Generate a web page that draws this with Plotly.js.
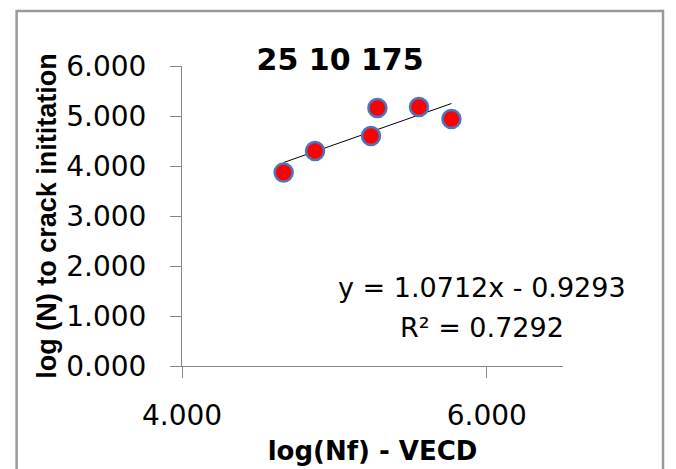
<!DOCTYPE html>
<html>
<head>
<meta charset="utf-8">
<script src="https://cdn.plot.ly/plotly-3.0.1.min.js"></script>
<style>
  html, body { margin: 0; padding: 0; background: #ffffff; }
  #chart { width: 676px; height: 469px; }
</style>
</head>
<body>
<div id="chart"></div>
<script>
// Measured points: log(Nf) from VECD vs log(N) to crack initiation
const logNfVECD = [4.667, 4.873, 5.240, 5.282, 5.555, 5.768];
const logNInit  = [3.870, 4.302, 4.601, 5.161, 5.181, 4.941];

// Linear trendline reported on the chart
const slope = 1.0712;
const intercept = -0.9293;
const rSquared = 0.7292;

const xTickVals = [4, 6];
const yTickVals = [0, 1, 2, 3, 4, 5, 6];

const chartTitle = '25 10 175';
const xTitle = 'log(Nf) - VECD';
const yTitle = 'log (N) to crack inititation';

const xMin = Math.min(...logNfVECD);
const xMax = Math.max(...logNfVECD);
const trendX = [xMin, xMax];
const trendY = trendX.map(v => slope * v + intercept);

const axisGray = '#868686';
const regular = 'DejaVu Sans, sans-serif';
const bold = 'DejaVu Sans, sans-serif';
const narrowBold = 'Liberation Sans, Arial, sans-serif';

const traces = [
  {
    x: trendX, y: trendY,
    type: 'scatter', mode: 'lines',
    line: { color: '#000000', width: 1 },
    hoverinfo: 'skip', showlegend: false
  },
  {
    x: logNfVECD, y: logNInit,
    type: 'scatter', mode: 'markers',
    marker: { size: 18, color: '#FF0000', line: { color: '#4677C0', width: 2.5 } },
    showlegend: false
  }
];

const layout = {
  width: 676, height: 469,
  margin: { l: 182, r: 113, t: 66, b: 103, pad: 0 },
  paper_bgcolor: '#ffffff', plot_bgcolor: '#ffffff',
  title: {
    text: '<b>' + chartTitle + '</b>',
    font: { family: bold, size: 30, color: '#000000' },
    xref: 'paper', x: 0.415, xanchor: 'center',
    yref: 'container', y: 0.874, yanchor: 'middle'
  },
  xaxis: {
    range: [4, 6.5], tickvals: xTickVals, tickformat: '.3f',
    showgrid: false, zeroline: false,
    showline: true, linecolor: axisGray, linewidth: 1,
    ticks: 'outside', ticklen: 11, tickcolor: axisGray, tickwidth: 1,
    ticklabelstandoff: 13,
    tickfont: { family: regular, size: 28, color: '#000000' },
    title: { text: '<b>' + xTitle + '</b>', font: { family: bold, size: 26, color: '#000000' }, standoff: 11 },
    automargin: false
  },
  yaxis: {
    range: [0, 6], tickvals: yTickVals, tickformat: '.3f',
    showgrid: false, zeroline: false,
    showline: true, linecolor: axisGray, linewidth: 1,
    ticks: 'outside', ticklen: 11, tickcolor: axisGray, tickwidth: 1,
    ticklabelstandoff: 18,
    tickfont: { family: regular, size: 28, color: '#000000' },
    title: { text: '<b>' + yTitle + '</b>', font: { family: narrowBold, size: 27, color: '#000000' }, standoff: 1 },
    automargin: false
  },
  annotations: [
    {
      xref: 'paper', yref: 'paper', x: 0.787, y: 0.2617,
      xanchor: 'center', yanchor: 'middle', showarrow: false,
      text: 'y = ' + slope.toFixed(4) + 'x - ' + Math.abs(intercept).toFixed(4),
      font: { family: regular, size: 27, color: '#000000' }
    },
    {
      xref: 'paper', yref: 'paper', x: 0.787, y: 0.1283,
      xanchor: 'center', yanchor: 'middle', showarrow: false,
      text: 'R² = ' + rSquared.toFixed(4),
      font: { family: regular, size: 27, color: '#000000' }
    }
  ],
  shapes: [
    {
      type: 'rect', xref: 'paper', yref: 'paper',
      x0: -0.4341, x1: 1.2625, y0: -0.40, y1: 1.183,
      line: { color: '#9a9a9a', width: 2.5 }, fillcolor: 'rgba(0,0,0,0)', layer: 'below'
    }
  ]
};

Plotly.newPlot('chart', traces, layout, { displayModeBar: false, staticPlot: true });
</script>
</body>
</html>
